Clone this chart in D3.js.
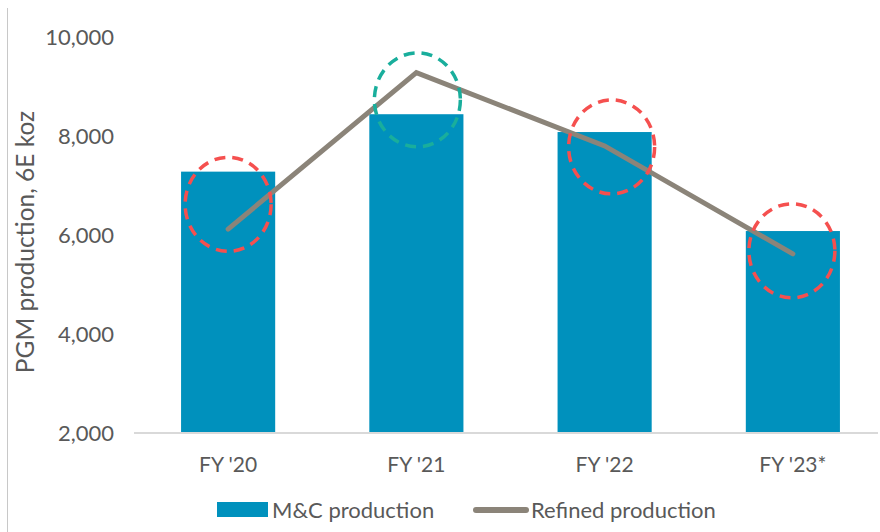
<!DOCTYPE html>
<html lang="en">
<head>
<meta charset="utf-8">
<script src="https://d3js.org/d3.v7.min.js"></script>
<style>
  body { margin: 0; background: #fff; }
  svg text { font-family: Lato, "Open Sans", sans-serif; fill: #595959; }
</style>
</head>
<body>
<svg width="880" height="532"></svg>
<script>
// chart data
var categories = ["FY '20", "FY '21", "FY '22", "FY '23*"];
var mcProduction = [7280, 8440, 8080, 6080];
var refinedProduction = [6120, 9280, 7800, 5620];
var yTicks = [2000, 4000, 6000, 8000, 10000];

// dashed rings drawn over the chart (value at ring centre)
var ringValues = [6620, 8730, 7780, 5680];
var ringColors = ["#f5504f", "#19ae9c", "#f5504f", "#f5504f"];

var svg = d3.select("svg");

// scales
var x = d3.scaleBand().domain(categories).range([134, 887])
    .paddingInner(0.5).paddingOuter(0.25);
var y = d3.scaleLinear().domain([2000, 10000]).range([433, 37]);

// thin frame line on the left
svg.append("line")
    .attr("x1", 7.5).attr("x2", 7.5).attr("y1", 8).attr("y2", 532)
    .attr("stroke", "#c8c8c8").attr("stroke-width", 1);

// y tick labels
var yAxis = svg.append("g")
    .attr("transform", "translate(114,0)")
    .call(d3.axisLeft(y).tickValues(yTicks).tickSize(0).tickPadding(0)
        .tickFormat(d3.format(",")));
yAxis.select(".domain").remove();
yAxis.selectAll("text")
    .style("font-size", "22px")
    .attr("dy", "0.36em")
    .attr("fill", "#595959");

// y title
svg.append("text")
    .attr("transform", "translate(34,242) rotate(-90)")
    .attr("text-anchor", "middle")
    .style("font-size", "24.5px")
    .text("PGM production, 6E koz");

// bars
svg.append("g").selectAll("rect")
    .data(mcProduction).enter().append("rect")
    .attr("x", function (d, i) { return x(categories[i]); })
    .attr("width", x.bandwidth())
    .attr("y", function (d) { return y(d); })
    .attr("height", function (d) { return y(2000) - y(d); })
    .attr("fill", "#0091bd");

// x axis
var xAxis = svg.append("g")
    .attr("transform", "translate(0," + y(2000) + ")")
    .call(d3.axisBottom(x).tickSize(0).tickPadding(24));
xAxis.select(".domain").remove();
xAxis.selectAll("text").style("font-size", "21px").attr("fill", "#595959");
svg.append("line")
    .attr("x1", 134).attr("x2", 878)
    .attr("y1", y(2000)).attr("y2", y(2000))
    .attr("stroke", "#d9d9d9").attr("stroke-width", 2);

// refined production line
var line = d3.line()
    .x(function (d, i) { return x(categories[i]) + x.bandwidth() / 2; })
    .y(function (d) { return y(d); });
svg.append("path")
    .datum(refinedProduction)
    .attr("d", line)
    .attr("fill", "none")
    .attr("stroke", "#8b8479")
    .attr("stroke-width", 5)
    .attr("stroke-linecap", "round");

// dashed rings
var ringShift = [0, 1, 7, -1];
svg.append("g").selectAll("ellipse")
    .data(ringValues).enter().append("ellipse")
    .attr("cx", function (d, i) { return x(categories[i]) + x.bandwidth() / 2 + ringShift[i]; })
    .attr("cy", function (d) { return y(d); })
    .attr("rx", 43).attr("ry", 47)
    .attr("fill", "none")
    .attr("stroke", function (d, i) { return ringColors[i]; })
    .attr("stroke-width", 3.5)
    .attr("stroke-dasharray", "11 7");

// legend
var legend = svg.append("g");
legend.append("rect")
    .attr("x", 217).attr("y", 502).attr("width", 51).attr("height", 15)
    .attr("fill", "#0091bd");
legend.append("text")
    .attr("x", 272).attr("y", 518)
    .style("font-size", "22px")
    .text("M&C production");
legend.append("line")
    .attr("x1", 476).attr("x2", 526).attr("y1", 510).attr("y2", 510)
    .attr("stroke", "#8b8479").attr("stroke-width", 6)
    .attr("stroke-linecap", "round");
legend.append("text")
    .attr("x", 531).attr("y", 518)
    .style("font-size", "22px")
    .text("Refined production");
</script>
</body>
</html>
